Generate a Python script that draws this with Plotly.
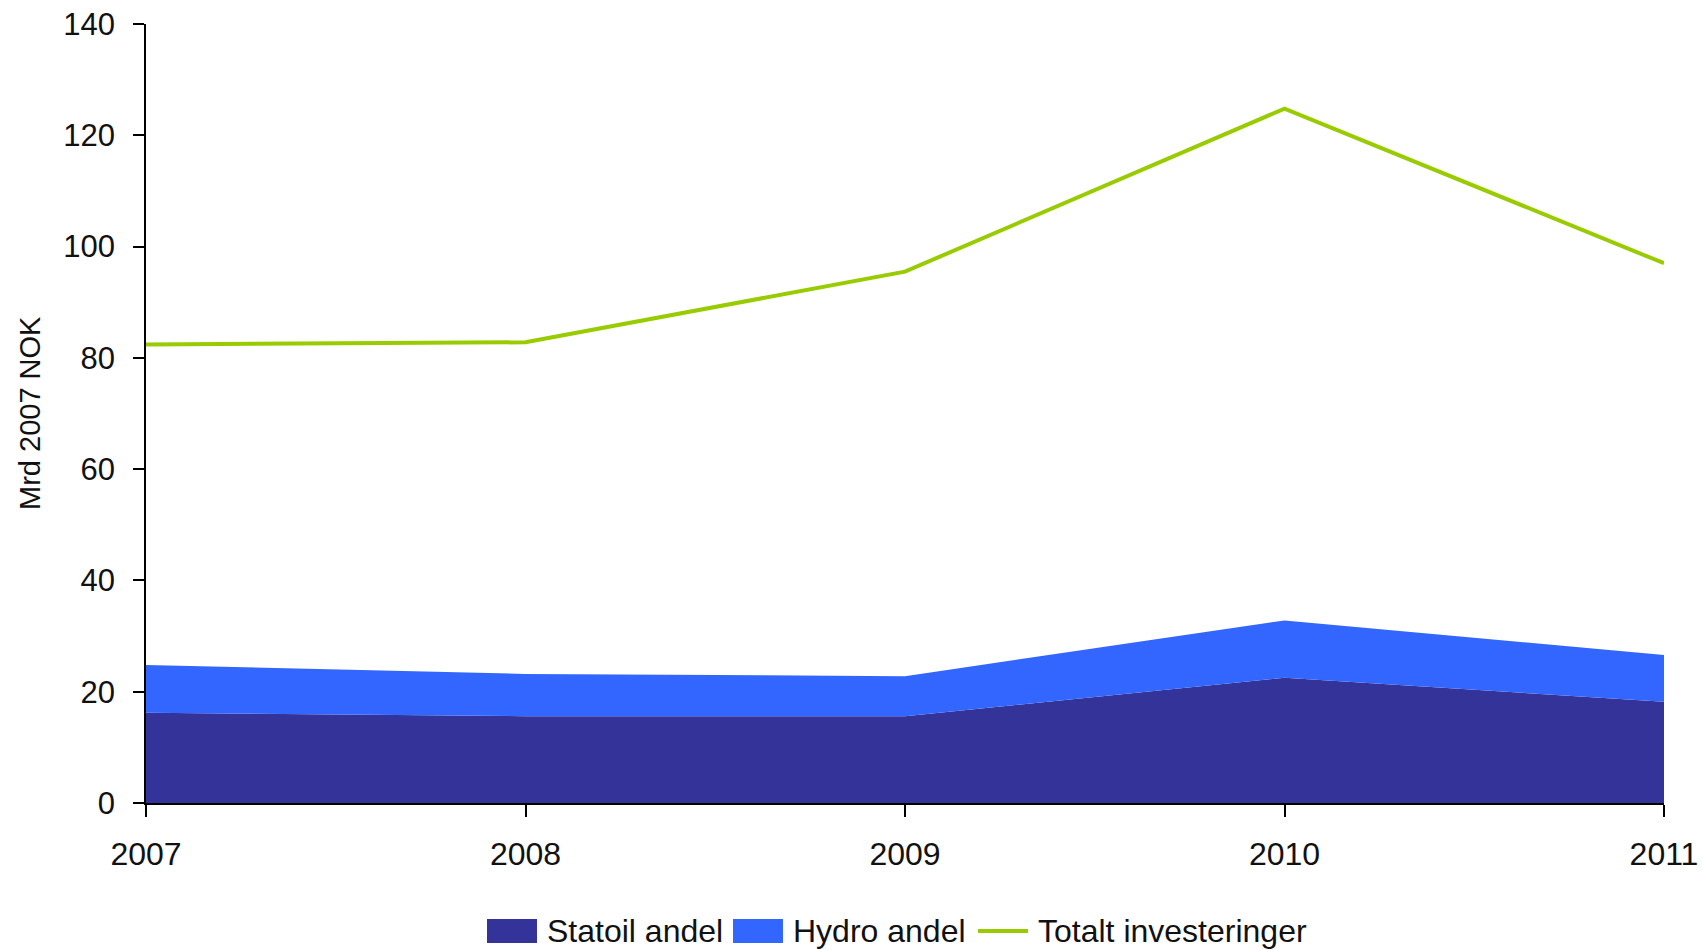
import plotly.graph_objects as go

years = [2007, 2008, 2009, 2010, 2011]
statoil = [16.2, 15.6, 15.6, 22.5, 18.2]
hydro = [8.6, 7.6, 7.2, 10.3, 8.4]
total = [82.4, 82.8, 95.5, 124.8, 97.0]

y_ticks = [0, 20, 40, 60, 80, 100, 120, 140]

names = ["Statoil andel", "Hydro andel", "Totalt investeringer"]
colors = ["#333399", "#3366FF", "#99CC00"]

W, H = 1702, 950
# plot area in page pixels: x 146..1664, y 24..803
L, T = 146, 24
R = W - 1664
B = H - 803
PW, PH = W - L - R, H - T - B


def px(xpage):
    return (xpage - L) / PW


def py(ypage):
    return (H - B - ypage) / PH


fig = go.Figure()
fig.add_trace(go.Scatter(x=years, y=statoil, name=names[0], stackgroup="one",
                         mode="none", fillcolor=colors[0], showlegend=False))
fig.add_trace(go.Scatter(x=years, y=hydro, name=names[1], stackgroup="one",
                         mode="none", fillcolor=colors[1], showlegend=False))
fig.add_trace(go.Scatter(x=years, y=total, name=names[2], mode="lines",
                         line=dict(color=colors[2], width=4), showlegend=False))

# custom legend (boxes / line + text)
shapes = []
annotations = []
legend_y = 931
items = [(487, "box"), (733, "box"), (978, "line")]
for (x0, kind), name, col in zip(items, names, colors):
    if kind == "box":
        shapes.append(dict(type="rect", xref="paper", yref="paper",
                           x0=px(x0), x1=px(x0 + 50), y0=py(legend_y + 12), y1=py(legend_y - 12),
                           fillcolor=col, line=dict(width=0)))
    else:
        shapes.append(dict(type="line", xref="paper", yref="paper",
                           x0=px(x0), x1=px(x0 + 50), y0=py(legend_y), y1=py(legend_y),
                           line=dict(color=col, width=4)))
    annotations.append(dict(text=name, xref="paper", yref="paper", x=px(x0 + 58), y=py(legend_y),
                            xanchor="left", yanchor="middle", showarrow=False,
                            font=dict(size=32, color="#111111")))

annotations.append(dict(text="Mrd 2007 NOK", xref="paper", yref="paper", x=px(30), y=py(413),
                        xanchor="center", yanchor="middle", textangle=-90, showarrow=False,
                        font=dict(size=29, color="#111111")))

fig.update_layout(
    width=W, height=H,
    margin=dict(l=L, r=R, t=T, b=B, autoexpand=False),
    plot_bgcolor="white", paper_bgcolor="white",
    font=dict(family="Liberation Sans, Arial, sans-serif", size=31, color="#111111"),
    showlegend=False,
    shapes=shapes,
    annotations=annotations,
    xaxis=dict(range=[2007, 2011], tickvals=years, ticktext=[str(y) for y in years],
               showgrid=False, zeroline=False, showline=True, linecolor="black", linewidth=1.5,
               ticks="outside", ticklen=12, tickcolor="black", tickwidth=1.5,
               tickfont=dict(size=32), automargin=False, ticklabeloverflow="allow",
               ticklabelstandoff=10),
    yaxis=dict(range=[0, 140], tickvals=y_ticks, showgrid=False, zeroline=False,
               showline=True, linecolor="black", linewidth=1.5,
               ticks="outside", ticklen=11, tickcolor="black", tickwidth=1.5,
               tickfont=dict(size=31), automargin=False, ticklabeloverflow="allow",
               ticklabelstandoff=12),
)

fig.write_html("out.html", config={"displayModeBar": False},
               post_script="document.body.style.margin='0';")
